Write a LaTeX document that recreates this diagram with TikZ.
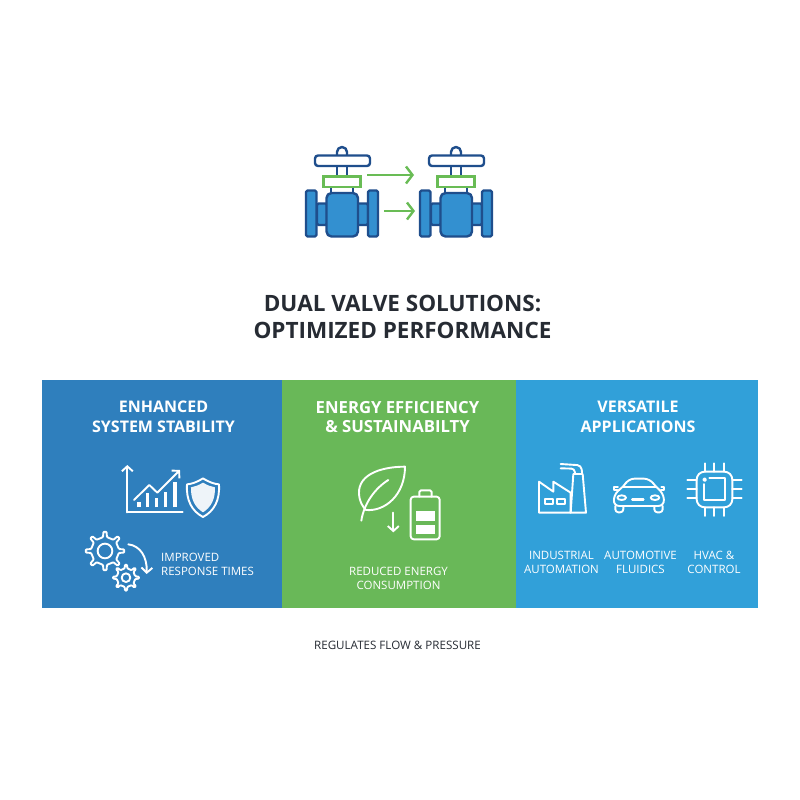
\documentclass[tikz,border=0pt]{standalone}
\usepackage{fontspec}
\setmainfont{Open Sans}
\usetikzlibrary{arrows.meta}
\definecolor{navy}{HTML}{1F4E8C}
\definecolor{valveblue}{HTML}{3390D0}
\definecolor{vgreen}{HTML}{69BC55}
\definecolor{panelA}{HTML}{2F7FBD}
\definecolor{panelB}{HTML}{69B858}
\definecolor{panelC}{HTML}{31A0D9}
\definecolor{titlecol}{HTML}{262B33}
\tikzset{
  vline/.style={draw=navy,line width=2.4pt,line join=round},
  vbody/.style={vline,fill=valveblue,rounded corners=1.5pt},
  flowarrow/.style={draw=vgreen,line width=2.4pt,-{Straight Barb[length=6.5pt,width=17pt,line width=2.4pt]}},
  icon/.style={draw=white,line width=1.9pt,line join=round,line cap=round},
  iconarrow/.style={icon,-{Straight Barb[length=5pt,width=11pt,line width=1.9pt]}},
  zoomA/.style={shift={(40,450)},x=0.3333pt,y=-0.3333pt},
  zoomB/.style={shift={(290,450)},x=0.3333pt,y=-0.3333pt},
  zoomC/.style={shift={(520,450)},x=0.3333pt,y=-0.3333pt},
  heading/.style={text=titlecol,font=\fontsize{22.5}{27}\selectfont\bfseries,align=center,inner sep=0pt},
  paneltitle/.style={text=white,font=\fontsize{16}{19.5}\selectfont\bfseries,align=center,inner sep=0pt},
  bigtitle/.style={paneltitle,font=\fontsize{16.7}{19.5}\selectfont\bfseries},
  caption/.style={text=white,font=\fontsize{11.5}{14}\selectfont,align=center,inner sep=0pt},
  foot/.style={text=titlecol,font=\fontsize{11.6}{14}\selectfont,inner sep=0pt}
}
\newcommand{\valveicon}[1]{%
  \begin{scope}[shift={(#1,0)}]
    \draw[vline] (337,155) -- (337,152) arc[start angle=180,end angle=360,radius=5] -- (347,155);
    \draw[vline] (337,166) -- (337,176) (347,166) -- (347,176);
    \draw[vline,fill=white,rounded corners=3pt] (315,155.5) rectangle (370,166);
    \draw[vline] (331,187) -- (331,194) (353,187) -- (353,194);
    \draw[draw=vgreen,line width=2.6pt,fill=white] (323.5,176.5) rectangle (360.5,187);
    \draw[vbody] (317,203.5) rectangle (327,225);
    \draw[vbody] (357,203.5) rectangle (368,225);
    \draw[vbody] (306,190.5) rectangle (316.5,236.5);
    \draw[vbody] (368,190.5) rectangle (378,236.5);
    \draw[vline,fill=valveblue,rounded corners=5pt] (326.5,193) rectangle (358,236.5);
  \end{scope}}
\newcommand{\gearicon}[6]{% cx cy outer inner hole teeth
  \begin{scope}[shift={(#1,#2)}]
    \pgfmathsetmacro{\gstep}{360/#6}
    \draw[icon,rounded corners=0.8pt] (-0.18*\gstep:#4)
      \foreach \k in {1,...,#6} {
        -- ({(\k-1)*\gstep-0.10*\gstep}:#3) -- ({(\k-1)*\gstep+0.10*\gstep}:#3)
        -- ({(\k-1)*\gstep+0.18*\gstep}:#4) -- ({\k*\gstep-0.18*\gstep}:#4)
      } -- cycle;
    \draw[icon] (0,0) circle[radius=#5];
  \end{scope}}
\begin{document}
\begin{tikzpicture}[x=1pt,y=-1pt]
\useasboundingbox (0,0) rectangle (800,800);
\fill[white] (0,0) rectangle (800,800);

% top icon
\valveicon{0}
\valveicon{114}
\coordinate (fa1) at (367,175); \coordinate (fa2) at (414,175);
\coordinate (fb1) at (384,211); \coordinate (fb2) at (415,211);
\draw[flowarrow] (fa1) -- (fa2);
\draw[flowarrow] (fb1) -- (fb2);

\node[heading] (title) at (402.5,317) {DUAL VALVE SOLUTIONS:\\OPTIMIZED PERFORMANCE};

% panels
\fill[panelA] (42,380) rectangle (282,608);
\fill[panelB] (282,380) rectangle (516,608);
\fill[panelC] (516,380) rectangle (758,608);

\node[paneltitle] (t1) at (163.5,417) {ENHANCED\\SYSTEM STABILITY};
\node[bigtitle] (t2) at (397.5,417) {ENERGY EFFICIENCY\\\& SUSTAINABILTY};
\node[paneltitle] (t3) at (638,417) {VERSATILE\\APPLICATIONS};

% chart, shield
\begin{scope}[zoomA]
  \draw[iconarrow] (262,187) -- (262,45);
  \draw[icon] (262,187) -- (428,187);
  \draw[iconarrow] (282,150) -- (328,105) -- (352,128) -- (420,60);
  \draw[icon,line width=3.2pt,line cap=butt] (297,172) -- (297,155) (323,172) -- (323,130) (350,172) -- (350,145) (377,172) -- (377,125) (405,172) -- (405,97);
  \draw[icon] (489,85) .. controls (470,97) and (455,102) .. (441,103) .. controls (438,150) and (455,183) .. (489,201) .. controls (523,183) and (540,150) .. (537,103) .. controls (523,102) and (508,97) .. (489,85) -- cycle;
  \fill[white,opacity=0.92] (489,98) .. controls (475,106) and (465,110) .. (453,112) .. controls (452,148) and (465,172) .. (489,187) .. controls (513,172) and (526,148) .. (525,112) .. controls (513,110) and (503,106) .. (489,98) -- cycle;
\end{scope}
\begin{scope}[zoomA]
  \gearicon{195}{303}{58}{42}{22}{8}
  \gearicon{258}{383}{39}{28}{13}{8}
  \draw[iconarrow] (265,283) .. controls (300,287) and (322,320) .. (320,372);
\end{scope}
\node[caption,anchor=west,align=left] (c1) at (161,564) {IMPROVED\\RESPONSE TIMES};

% leaf, battery
\begin{scope}[zoomB]
  \draw[icon] (345,50) .. controls (280,50) and (205,70) .. (207,130) .. controls (208,155) and (218,170) .. (228,180) .. controls (285,185) and (345,135) .. (345,50) -- cycle;
  \draw[icon] (214,212) .. controls (222,160) and (255,115) .. (295,90);
  \draw[iconarrow] (310,188) -- (310,247);
  \draw[icon,rounded corners=3pt] (362,140) rectangle (449,268);
  \draw[icon,rounded corners=1.5pt] (388,140) -- (388,121) -- (425,121) -- (425,140);
  \fill[white] (378,183) rectangle (434,212);
  \fill[white] (378,224) rectangle (434,253);
\end{scope}
\node[caption] (c2) at (398.5,578.5) {REDUCED ENERGY\\CONSUMPTION};

% factory, car, chip
\begin{scope}[zoomC]
  \draw[icon] (57,188) -- (57,95) -- (100,125) -- (100,95) -- (152,128) -- (152,188) -- cycle;
  \draw[icon] (152,188) -- (160,72) -- (188,72) -- (198,188) -- cycle;
  \draw[icon] (75,146) rectangle (98,163);
  \draw[icon] (112,146) rectangle (135,163);
  \draw[icon,rounded corners=4pt] (122,42) -- (184,46) -- (186,68);
  \draw[icon,rounded corners=3pt] (122,55) -- (163,56) -- (165,70);
  % car
  \draw[icon,rounded corners=6pt] (284,128) -- (310,112) -- (325,86) -- (390,86) -- (408,112) -- (430,128) -- (433,168) -- (280,168) -- cycle;
  \draw[icon] (310,112) -- (408,112);
  \draw[icon] (294,112) -- (281,112) -- (281,120) -- (292,120);
  \draw[icon] (424,112) -- (433,112) -- (433,120) -- (424,120);
  \draw[icon] (305,143) ellipse[x radius=13,y radius=7];
  \draw[icon] (405,143) ellipse[x radius=13,y radius=7];
  \draw[icon,line width=2.6pt] (337,149) -- (370,149);
  \draw[icon,rounded corners=3pt] (286,168) -- (286,187) -- (310,187) -- (310,168);
  \draw[icon,rounded corners=3pt] (403,168) -- (403,187) -- (428,187) -- (428,168);
  % chip
  \draw[icon,rounded corners=8pt] (530,65) rectangle (637,172);
  \draw[icon] (554,89) circle[radius=4];
  \draw[icon] (553,102) -- (553,150) -- (615,150) -- (615,85) -- (568,85);
  \draw[icon] (555,40) -- (555,65) (583,40) -- (583,65) (612,40) -- (612,65);
  \draw[icon] (555,172) -- (555,198) (583,172) -- (583,198) (612,172) -- (612,198);
  \draw[icon] (502,90) -- (530,90) (502,118) -- (530,118) (502,145) -- (530,145);
  \draw[icon] (637,90) -- (665,90) (637,118) -- (665,118) (637,145) -- (665,145);
\end{scope}
\node[caption] (c3) at (561.5,562) {INDUSTRIAL\\AUTOMATION};
\node[caption] (c4) at (640.5,562) {AUTOMOTIVE\\FLUIDICS};
\node[caption] (c5) at (714,562) {HVAC \&\\CONTROL};

\node[foot] (f) at (397.5,645) {REGULATES FLOW \& PRESSURE};
\end{tikzpicture}
\end{document}
